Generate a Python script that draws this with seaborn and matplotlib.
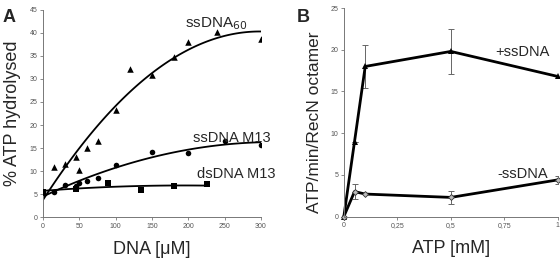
import numpy as np
import pandas as pd
import matplotlib
matplotlib.use('Agg')
import matplotlib.pyplot as plt
import seaborn as sns

# panel A: % ATP hydrolysed vs DNA concentration
ss60_x = [0, 15, 30, 45, 50, 60, 75, 100, 120, 150, 180, 200, 240, 300]
ss60_y = [5.5, 10.9, 11.5, 13.0, 10.3, 15.0, 16.6, 23.3, 32.1, 30.9, 34.7, 38.0, 40.1, 38.6]
m13_x = [0, 15, 30, 45, 50, 60, 75, 100, 150, 200, 250, 300]
m13_y = [5.5, 5.5, 7.0, 6.8, 7.5, 7.9, 8.4, 11.3, 14.2, 14.0, 16.6, 15.7]
ds_x = [0, 45, 90, 135, 180, 225]
ds_y = [5.5, 6.2, 7.5, 5.9, 6.7, 7.1]

# panel B: rate vs ATP concentration
atp_plus = [0, 0.05, 0.1, 0.5, 1]
rate_plus = [0, 9.0, 18.0, 19.8, 16.8]
err_plus = [0, 0, 2.6, 2.7, 0]
atp_minus = [0, 0.05, 0.1, 0.5, 1]
rate_minus = [0, 3.0, 2.7, 2.3, 4.4]
err_minus = [0, 0.85, 0, 0.8, 0.45]

sns.set_style('white')
plt.rcParams['font.family'] = ['Liberation Sans', 'DejaVu Sans']

fig = plt.figure(figsize=(5.6, 2.6), dpi=100)
axA = fig.add_axes([0.077, 0.165, 0.389, 0.797])
axB = fig.add_axes([0.614, 0.167, 0.382, 0.802])

tick_kw = dict(labelsize=5, labelcolor='#555555', length=2, width=0.6,
               color='#777777', pad=2)

for ax in (axA, axB):
    sns.despine(ax=ax)
    for s in ('left', 'bottom'):
        ax.spines[s].set_color('#777777')
        ax.spines[s].set_linewidth(0.7)
    ax.tick_params(axis='both', which='both', direction='out', bottom=True, left=True, **tick_kw)

# --- A ---
series = [(ss60_x, ss60_y, '^', 22), (m13_x, m13_y, 'o', 16), (ds_x, ds_y, 's', 18)]
for xs, ys, mk, sz in series:
    df = pd.DataFrame({'x': xs, 'y': ys})
    sns.regplot(data=df, x='x', y='y', order=2, ci=None, scatter=False, ax=axA,
                line_kws=dict(color='black', lw=1.3))
    sns.scatterplot(data=df, x='x', y='y', marker=mk, s=sz, color='black',
                    edgecolor='black', linewidth=0, ax=axA, zorder=3)

axA.set_xlim(0, 300)
axA.set_ylim(0, 45)
axA.set_xticks(range(0, 301, 50))
axA.set_yticks(range(0, 46, 5))
axA.set_xlabel('DNA [\u03bcM]', fontsize=13, labelpad=8)
axA.set_ylabel('% ATP hydrolysed', fontsize=13, labelpad=6)
axA.text(195, 41.3, 'ssDNA$_{60}$', fontsize=11)
axA.text(207, 16.3, 'ssDNA M13', fontsize=10.5, clip_on=False)
axA.text(212, 8.4, 'dsDNA M13', fontsize=10.5, clip_on=False)
fig.text(0.005, 0.965, 'A', fontsize=13, fontweight='bold', va='top')

# --- B ---
dplus = pd.DataFrame({'atp': atp_plus, 'rate': rate_plus})
dminus = pd.DataFrame({'atp': atp_minus, 'rate': rate_minus})
axB.errorbar(atp_plus, rate_plus, yerr=err_plus, fmt='none', ecolor='#666666',
             elinewidth=0.7, capsize=2.5, capthick=0.7, zorder=1)
axB.errorbar(atp_minus, rate_minus, yerr=err_minus, fmt='none', ecolor='#666666',
             elinewidth=0.7, capsize=2.5, capthick=0.7, zorder=1)
sns.lineplot(data=dplus, x='atp', y='rate', color='black', lw=2, marker='^',
             markersize=4, markeredgewidth=0, ax=axB, zorder=2, clip_on=False)
sns.lineplot(data=dminus, x='atp', y='rate', color='black', lw=2, marker='D',
             markersize=3, markerfacecolor='#bbbbbb', markeredgecolor='#333333',
             markeredgewidth=0.6, ax=axB, zorder=2, clip_on=False)

axB.set_xlim(0, 1)
axB.set_ylim(0, 25)
axB.set_xticks([0, 0.25, 0.5, 0.75, 1])
axB.set_xticklabels(['0', '0,25', '0,5', '0,75', '1'])
axB.set_yticks(range(0, 26, 5))
axB.set_xlabel('ATP [mM]', fontsize=13, labelpad=8)
axB.set_ylabel('ATP/min/RecN octamer', fontsize=12.5)
axB.yaxis.set_label_coords(-0.1, 0.45)
axB.text(0.71, 19.2, '+ssDNA', fontsize=10.5)
axB.text(0.72, 4.6, '-ssDNA', fontsize=10.5)
fig.text(0.53, 0.965, 'B', fontsize=13, fontweight='bold', va='top')

fig.savefig('out.png', dpi=100)
